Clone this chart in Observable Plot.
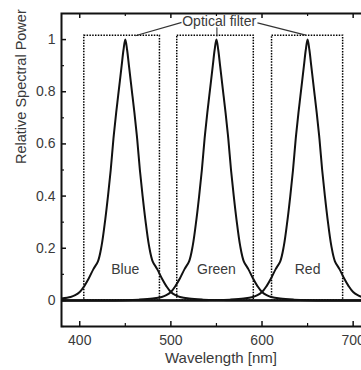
<!DOCTYPE html>
<html>
<head>
<meta charset="utf-8">
<script src="https://cdn.jsdelivr.net/npm/d3@7"></script>
<script src="https://cdn.jsdelivr.net/npm/@observablehq/plot@0.6"></script>
<style>
  html, body { margin: 0; padding: 0; overflow: hidden; background: #fff; width: 361px; height: 370px; }
  #chart { width: 361px; height: 370px; overflow: hidden; }
  #chart svg { display: block; max-width: none !important; width: 385px !important; height: 370px !important; }
</style>
</head>
<body>
<div id="chart"></div>
<script>
// ---- data ----
const blueNm  = [380,390,395,400,405,410,415,420,424,428,431,434,437,440,442,444,446,448,450,452,454,456,458,460,463,466,469,472,476,480,485,490,495,500,505,510,520,535,550,580,730];
const blueVal = [0.007,0.013,0.02,0.032,0.055,0.085,0.12,0.15,0.21,0.31,0.4,0.5,0.62,0.72,0.78,0.84,0.9,0.96,1,0.96,0.9,0.84,0.78,0.72,0.62,0.5,0.4,0.31,0.21,0.15,0.12,0.085,0.055,0.032,0.02,0.013,0.007,0.003,0.001,0,0];

const greenNm  = [380,420,450,465,480,490,495,500,505,510,515,520,524,528,531,534,537,540,542,544,546,548,550,552,554,556,558,560,563,566,569,572,576,580,585,590,595,600,605,610,620,635,650,680,730];
const greenVal = [0,0,0.001,0.003,0.007,0.013,0.02,0.032,0.055,0.085,0.12,0.15,0.21,0.31,0.4,0.5,0.62,0.72,0.78,0.84,0.9,0.96,1,0.96,0.9,0.84,0.78,0.72,0.62,0.5,0.4,0.31,0.21,0.15,0.12,0.085,0.055,0.032,0.02,0.013,0.007,0.003,0.001,0,0];

const redNm  = [380,520,550,565,580,590,595,600,605,610,615,620,624,628,631,634,637,640,642,644,646,648,650,652,654,656,658,660,663,666,669,672,676,680,685,690,695,700,705,710,720,735];
const redVal = [0,0,0.001,0.003,0.007,0.013,0.02,0.032,0.055,0.085,0.12,0.15,0.21,0.31,0.4,0.5,0.62,0.72,0.78,0.84,0.9,0.96,1,0.96,0.9,0.84,0.78,0.72,0.62,0.5,0.4,0.31,0.21,0.15,0.12,0.085,0.055,0.032,0.02,0.013,0.007,0.003];

const bandNames = ["Blue", "Green", "Red"];
const bandPeak  = [450, 550, 650];
const filterLo  = [405, 507, 611];
const filterHi  = [488, 591, 689];
const filterTop = 1.015;
const bandLabelY = 0.12;

const annotText = "Optical filter";
const annotX = 553, annotY = 1.068;
const leaderX1 = [514, 550.5, 595];
const leaderY1 = [1.068, 1.05, 1.064];
const leaderX2 = [461, 550.5, 648];
const leaderY2 = [1.015, 1.012, 1.017];

const xMajor = [400, 500, 600, 700];
const xMinor = [450, 550, 650];
const yMajor = [0, 0.2, 0.4, 0.6, 0.8, 1];
const yMinor = [-0.1, 0.1, 0.3, 0.5, 0.7, 0.9];
const yTickLabels = ["0", "0.2", "0.4", "0.6", "0.8", "1"];
const xTitle = "Wavelength [nm]";
const yTitle = "Relative Spectral Power";

// ---- build tables ----
const series = [
  ...blueNm.map((x, i) => ({band: "Blue", x, y: blueVal[i]})),
  ...greenNm.map((x, i) => ({band: "Green", x, y: greenVal[i]})),
  ...redNm.map((x, i) => ({band: "Red", x, y: redVal[i]}))
];
const filters = bandNames.map((b, i) => ({band: b, x1: filterLo[i], x2: filterHi[i], y1: 0, y2: filterTop}));
const labels = bandNames.map((b, i) => ({text: b, x: bandPeak[i], y: bandLabelY}));
const leaders = leaderX1.map((x, i) => ({x1: x, y1: leaderY1[i], x2: leaderX2[i], y2: leaderY2[i]}));

const W = 385, H = 370, mL = 61, mR = 5, mT = 13, mB = 44;
const pw = W - mL - mR, ph = H - mT - mB;
const ink = "#111";
const txt = "#3a3a3a";

const chart = Plot.plot({
  width: W, height: H,
  marginLeft: mL, marginRight: mR, marginTop: mT, marginBottom: mB,
  style: {fontFamily: "'Liberation Sans', Arial, sans-serif", fontSize: "14px", color: txt, background: "#fff"},
  x: {domain: [380, 730], axis: null},
  y: {domain: [-0.1, 1.1], axis: null},
  marks: [
    Plot.rect(filters, {x1: "x1", x2: "x2", y1: "y1", y2: "y2", fill: "none", stroke: "#000", strokeWidth: 1.5, strokeDasharray: "1.5,1.3"}),
    Plot.ruleY([0], {stroke: ink, strokeWidth: 2.2}),
    Plot.line(series, {x: "x", y: "y", z: "band", stroke: ink, strokeWidth: 2, curve: "catmull-rom", clip: true}),
    Plot.text(labels, {x: "x", y: "y", text: "text", fill: txt, fontSize: 14}),
    Plot.link(leaders, {x1: "x1", y1: "y1", x2: "x2", y2: "y2", stroke: "#333", strokeWidth: 1.1}),
    Plot.text([annotText], {x: annotX, y: annotY, text: d => d, fill: txt, fontSize: 14, stroke: "white", strokeWidth: 3}),
    // inward ticks
    Plot.tickX(xMajor, {x: d => d, insetTop: ph - 5, stroke: ink, strokeWidth: 1.5}),
    Plot.tickX(xMinor, {x: d => d, insetTop: ph - 3, stroke: ink, strokeWidth: 1.2}),
    Plot.tickX(xMajor, {x: d => d, insetBottom: ph - 5, stroke: ink, strokeWidth: 1.5}),
    Plot.tickX(xMinor, {x: d => d, insetBottom: ph - 3, stroke: ink, strokeWidth: 1.2}),
    Plot.tickY(yMajor, {y: d => d, insetRight: pw - 5, stroke: ink, strokeWidth: 1.5}),
    Plot.tickY(yMinor, {y: d => d, insetRight: pw - 3, stroke: ink, strokeWidth: 1.2}),
    Plot.axisX(xMajor, {tickSize: 0, tickPadding: 9, fontSize: 14, fill: txt, label: null}),
    Plot.axisY(yMajor, {tickSize: 0, tickPadding: 6, fontSize: 14, fill: txt, label: null, tickFormat: (d, i) => yTickLabels[i]}),
    Plot.frame({stroke: ink, strokeWidth: 2}),
    Plot.text([xTitle], {frameAnchor: "bottom", dy: 36, text: d => d, fill: txt, fontSize: 15}),
    Plot.text([yTitle], {frameAnchor: "left", dx: -40, dy: -6, rotate: -90, text: d => d, fill: txt, fontSize: 14.5})
  ]
});
document.getElementById("chart").appendChild(chart);
</script>
</body>
</html>
